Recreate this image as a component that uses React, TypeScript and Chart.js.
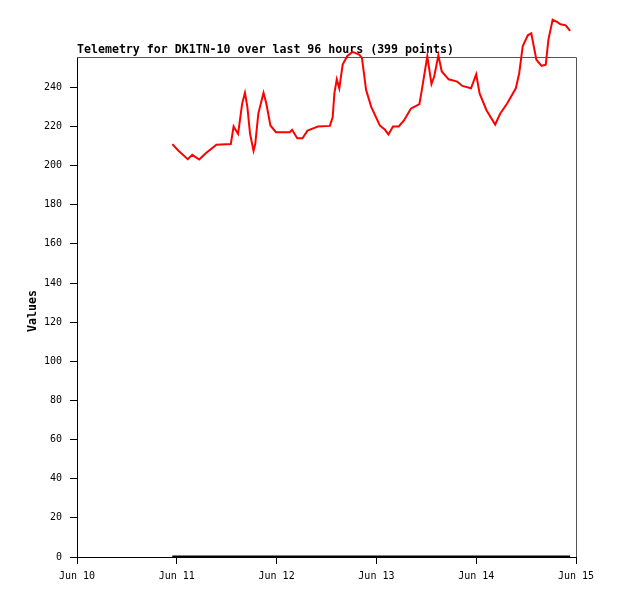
import React, { useEffect, useRef } from "react";
import { Chart, registerables } from "chart.js";

Chart.register(...registerables);

// Time in days since Jun 10 00:00
const telemetryDays = [
  0.955, 1.017, 1.11, 1.155, 1.224, 1.293, 1.397, 1.541, 1.569, 1.614,
  1.655, 1.683, 1.707, 1.734, 1.769, 1.786, 1.817, 1.869, 1.897, 1.938,
  1.993, 2.131, 2.155, 2.207, 2.259, 2.31, 2.379, 2.414, 2.534, 2.562,
  2.579, 2.603, 2.628, 2.662, 2.707, 2.759, 2.828, 2.855, 2.897, 2.948,
  3.034, 3.086, 3.121, 3.166, 3.224, 3.276, 3.345, 3.431, 3.455, 3.51,
  3.552, 3.579, 3.621, 3.655, 3.724, 3.81, 3.862, 3.948, 4.0, 4.034,
  4.103, 4.19, 4.241, 4.31, 4.397, 4.431, 4.466, 4.517, 4.552, 4.603,
  4.655, 4.697, 4.724, 4.766, 4.81, 4.845, 4.897, 4.941,
];
const telemetryValues = [
  211.0, 207.6, 203.3, 205.5, 203.1, 206.4, 210.7, 211.0, 220.0, 216.2,
  231.7, 237.2, 230.0, 216.2, 207.6, 211.0, 226.6, 237.2, 231.7, 220.5,
  217.1, 217.1, 218.3, 214.0, 214.0, 217.9, 219.3, 220.0, 220.3, 224.8,
  236.9, 244.1, 239.5, 251.6, 255.9, 258.1, 256.7, 255.0, 238.6, 230.0,
  220.5, 218.3, 215.9, 220.0, 220.0, 223.1, 229.1, 231.4, 238.6, 255.9,
  241.7, 245.5, 256.4, 248.1, 244.1, 242.9, 240.7, 239.5, 246.7, 236.9,
  228.3, 221.0, 226.6, 231.7, 239.5, 247.2, 261.0, 266.6, 267.6, 254.1,
  251.0, 251.6, 264.5, 274.5, 273.4, 272.2, 271.7, 268.8,
];
const baselineDays = [0.955, 4.941];
const baselineValues = [0.3, 0.3];

const xTickLabels = ["Jun 10", "Jun 11", "Jun 12", "Jun 13", "Jun 14", "Jun 15"];
const titleText = "Telemetry for DK1TN-10 over last 96 hours (399 points)";
const yAxisTitle = "Values";

const MONO = '"DejaVu Sans Mono", "Liberation Mono", monospace';

export default function App() {
  const ref = useRef<HTMLCanvasElement | null>(null);

  useEffect(() => {
    const canvas = ref.current;
    if (!canvas) return;

    const decor = {
      id: "decor",
      beforeDatasetsDraw(chart: any) {
        const { ctx, chartArea } = chart;
        ctx.save();
        // gray top and right border
        ctx.strokeStyle = "#555555";
        ctx.lineWidth = 1;
        ctx.beginPath();
        ctx.moveTo(chartArea.left, chartArea.top + 0.5);
        ctx.lineTo(chartArea.right + 0.5, chartArea.top + 0.5);
        ctx.lineTo(chartArea.right + 0.5, chartArea.bottom);
        ctx.stroke();
        // title
        ctx.fillStyle = "#000000";
        ctx.font = `bold 11.6px ${MONO}`;
        ctx.textAlign = "left";
        ctx.textBaseline = "alphabetic";
        ctx.fillText(titleText, chartArea.left, chartArea.top - 4);
        // y axis title
        ctx.translate(36, (chartArea.top + chartArea.bottom) / 2 + 4);
        ctx.rotate(-Math.PI / 2);
        ctx.textAlign = "center";
        ctx.textBaseline = "alphabetic";
        ctx.font = `bold 11.6px ${MONO}`;
        ctx.fillText(yAxisTitle, 0, 0);
        ctx.restore();
      },
    };

    const chart = new Chart(canvas, {
      type: "line",
      data: {
        datasets: [
          {
            label: "baseline",
            data: baselineDays.map((x, i) => ({ x, y: baselineValues[i] })),
            borderColor: "#000000",
            borderWidth: 2,
            pointRadius: 0,
            fill: false,
            clip: false as any,
          },
          {
            label: "telemetry",
            data: telemetryDays.map((x, i) => ({ x, y: telemetryValues[i] })),
            borderColor: "#ff0000",
            borderWidth: 2,
            pointRadius: 0,
            fill: false,
            tension: 0,
            clip: false as any,
          },
        ],
      },
      options: {
        animation: false,
        responsive: false,
        devicePixelRatio: 1,
        layout: { padding: { top: 57, right: 42, left: 0, bottom: 0 } },
        plugins: {
          legend: { display: false },
          title: { display: false },
          tooltip: { enabled: false },
        },
        scales: {
          x: {
            type: "linear",
            min: 0,
            max: 5,
            afterFit: (s: any) => {
              s.height = 41;
            },
            grid: {
              drawOnChartArea: false,
              drawTicks: true,
              tickLength: 7,
              color: "#000000",
            },
            border: { display: true, color: "#000000", width: 1 },
            ticks: {
              stepSize: 1,
              color: "#000000",
              padding: 6,
              maxRotation: 0,
              font: { family: MONO, size: 10 },
              callback: (v: any) => xTickLabels[Math.round(Number(v))] ?? "",
            },
          },
          y: {
            type: "linear",
            min: 0,
            max: 255.5,
            afterFit: (s: any) => {
              s.width = 77;
            },
            afterBuildTicks: (s: any) => {
              s.ticks = s.ticks.filter((t: any) => t.value % 20 === 0);
            },
            grid: {
              drawOnChartArea: false,
              drawTicks: true,
              tickLength: 7,
              color: "#000000",
            },
            border: { display: true, color: "#000000", width: 1 },
            ticks: {
              stepSize: 20,
              color: "#000000",
              padding: 8,
              font: { family: MONO, size: 10 },
            },
          },
        },
      },
      plugins: [decor],
    });

    return () => chart.destroy();
  }, []);

  return (
    <div style={{ position: "absolute", left: 0, top: 0, width: 618, height: 598, background: "#ffffff" }}>
      <canvas ref={ref} width={618} height={598} style={{ display: "block" }} />
    </div>
  );
}
